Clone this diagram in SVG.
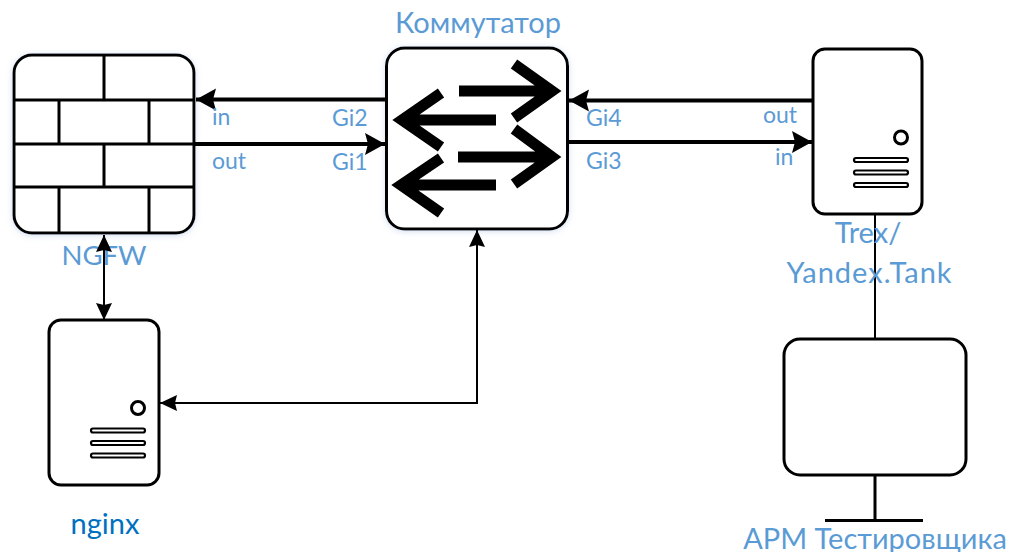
<svg xmlns="http://www.w3.org/2000/svg" width="1010" height="552" viewBox="0 0 1010 552">
<style>
text{font-family:"Lato","Open Sans","Noto Sans",sans-serif;fill:#5b9bd5}
.lg{font-size:29px}
.sm{font-size:23px}
.m{text-anchor:middle}
.body{fill:#fff;stroke:#000;stroke-width:3}
.in{fill:none;stroke:#000;stroke-width:3}
.big{fill:none;stroke:#000;stroke-width:11;stroke-miterlimit:10}
.bar{fill:#fff;stroke:#000;stroke-width:2.200}
.thick{fill:none;stroke:#000;stroke-width:4}
.thin{fill:none;stroke:#000;stroke-width:2}
</style>
<defs>
<marker id="a" markerUnits="userSpaceOnUse" markerWidth="22" markerHeight="24" refX="21" refY="12" orient="auto-start-reverse"><path d="M1 1L21 12L1 23L4 12Z" fill="#000"/></marker>
<marker id="b" markerUnits="userSpaceOnUse" markerWidth="17" markerHeight="18" refX="17" refY="9" orient="auto-start-reverse"><path d="M0 1L17 9L0 17L2 9Z" fill="#000"/></marker>
<filter id="g" x="-10%" y="-10%" width="120%" height="120%"><feDropShadow dx="0" dy="1" stdDeviation="3" flood-color="#9db8dc" flood-opacity=".45"/></filter>
</defs>
<g id="ngfw">
<rect class="body" x="14" y="55" width="180" height="178" rx="18" filter="url(#g)"/>
<path class="in" d="M14 100H194M14 144H194M14 187H194M104 55V100M59 100V144M149 100V144M104 144V187M59 187V233M149 187V233"/>
<text class="lg m" style="font-size:27.500px" x="104" y="265">NGFW</text>
</g>
<g id="switch">
<rect class="body" x="386.500" y="48" width="181" height="181" rx="18" filter="url(#g)"/>
<path class="big" d="M459 91H550M514 64L552 91L514 118"/>
<path class="big" d="M496 120H404M441 93L402 120L441 147"/>
<path class="big" d="M458 157H550M514 129L552 157L514 184"/>
<path class="big" d="M496 185H403M441 158L401 185L441 213"/>
<text class="lg m" x="478" y="33">Коммутатор</text>
</g>
<g id="trex">
<rect class="body" x="813" y="49" width="109" height="165" rx="12"/>
<circle class="body" cx="901" cy="137.500" r="6.500"/>
<rect class="bar" x="854" y="158" width="54" height="4" rx="2"/>
<rect class="bar" x="854" y="170.500" width="54" height="4" rx="2"/>
<rect class="bar" x="854" y="183" width="54" height="4" rx="2"/>
</g>
<g id="nginx">
<rect class="body" x="49" y="320" width="110" height="165" rx="12"/>
<circle class="body" cx="138" cy="408" r="6.500"/>
<rect class="bar" x="91" y="428.500" width="54" height="4" rx="2"/>
<rect class="bar" x="91" y="441" width="54" height="4" rx="2"/>
<rect class="bar" x="91" y="453.500" width="54" height="4" rx="2"/>
<text class="lg m" style="fill:#0070c0" x="105" y="534">nginx</text>
</g>
<g id="arm">
<rect class="body" x="784" y="339" width="182" height="136" rx="16"/>
<path class="in" d="M875 475V520M825 520.500H923"/>
<text class="lg m" x="875" y="549">АРМ Тестировщика</text>
</g>
<g id="connectors">
<path class="thick" d="M386 99.500H196" marker-end="url(#a)"/>
<path class="thick" d="M194 144H385" marker-end="url(#a)"/>
<path class="thick" d="M812 100.500H569" marker-end="url(#a)"/>
<path class="thick" d="M568 142H812" marker-end="url(#a)"/>
<path class="thin" d="M104 235V320" marker-start="url(#b)" marker-end="url(#b)"/>
<path class="thin" d="M477 230V403H160" marker-start="url(#b)" marker-end="url(#b)"/>
<path class="thin" d="M875 214V339"/>
</g>
<g id="labels">
<text class="sm" x="212" y="125">in</text>
<text class="sm" x="212" y="169">out</text>
<text class="sm" x="332" y="126">Gi2</text>
<text class="sm" x="332" y="170">Gi1</text>
<text class="sm" x="586" y="126">Gi4</text>
<text class="sm" x="586" y="169">Gi3</text>
<text class="sm" x="763" y="123">out</text>
<text class="sm" x="775" y="165">in</text>
<text class="lg m" x="868" y="243">Trex/</text>
<text class="lg m" style="letter-spacing:1px" x="869.500" y="283">Yandex.Tank</text>
</g>
</svg>
